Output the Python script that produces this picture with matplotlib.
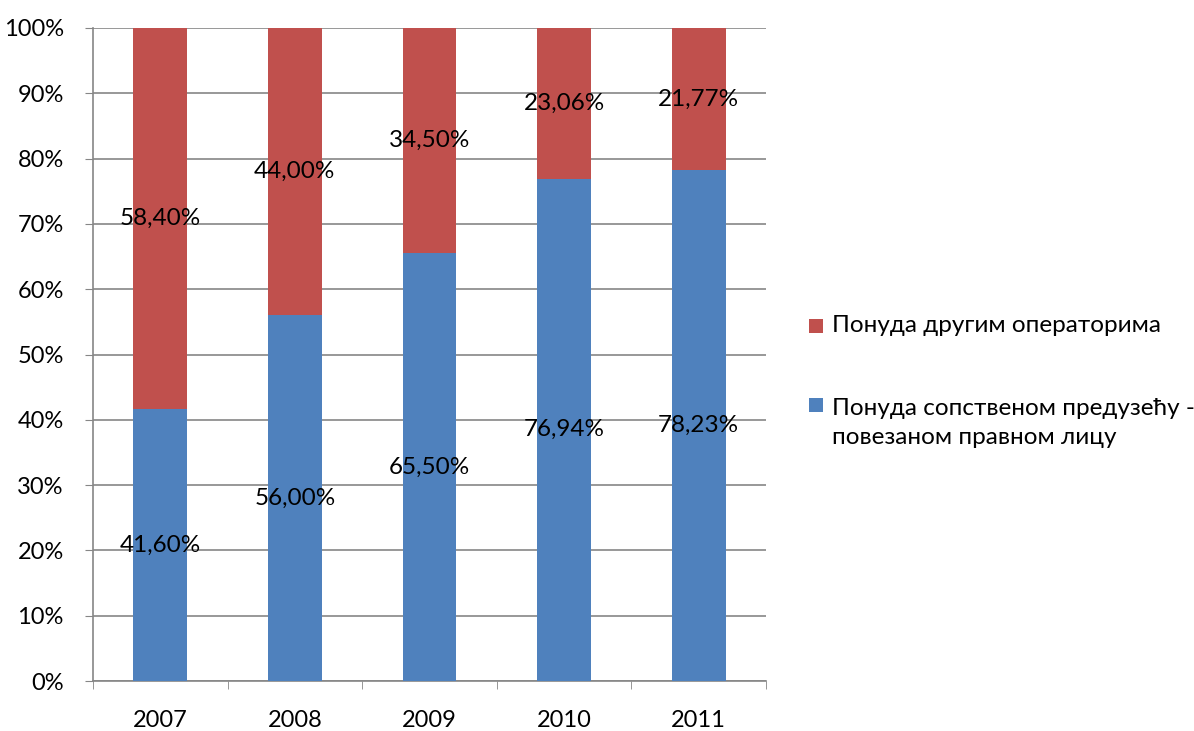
import matplotlib.pyplot as plt
import numpy as np
from matplotlib.patches import Rectangle

years = ["2007", "2008", "2009", "2010", "2011"]
own_company = [41.60, 56.00, 65.50, 76.94, 78.23]
other_operators = [58.40, 44.00, 34.50, 23.06, 21.77]
own_label = "Понуда сопственом предузећу -\nповезаном правном лицу"
other_label = "Понуда другим операторима"

blue = "#4F81BD"
red = "#C0504D"
grey = "#868686"

plt.rcParams["font.family"] = ["Lato", "DejaVu Sans"]

W, H = 1194, 731
fig = plt.figure(figsize=(W / 100, H / 100), dpi=100)
ax = fig.add_axes([93 / W, 1 - 681 / H, 673 / W, 653 / H])

x = np.arange(len(years))
w = 0.40
ax.bar(x, own_company, w, color=blue, zorder=3)
ax.bar(x, other_operators, w, bottom=own_company, color=red, zorder=3)

fmt = lambda v: f"{v:.2f}%".replace(".", ",")
for i in range(len(years)):
    ax.text(x[i], own_company[i] / 2, fmt(own_company[i]), ha="center", va="center",
            fontsize=17.5, zorder=4)
    ax.text(x[i], own_company[i] + other_operators[i] / 2, fmt(other_operators[i]),
            ha="center", va="center", fontsize=17.5, zorder=4)

ax.set_xlim(-0.5, len(years) - 0.5)
ax.set_ylim(0, 100)
ax.set_yticks(np.arange(0, 101, 10))
ax.set_yticklabels([f"{v}%" for v in range(0, 101, 10)], fontsize=17)
ax.set_xticks(x)
ax.set_xticklabels(years, fontsize=17)
ax.set_xticks(np.arange(-0.5, len(years), 1), minor=True)
ax.tick_params(axis="x", which="major", length=0, pad=21)
ax.tick_params(axis="x", which="minor", length=6, color=grey, direction="out")
ax.tick_params(axis="y", length=6, color=grey, direction="out", pad=15)
ax.yaxis.grid(True, color=grey, linewidth=1.2, zorder=0)
for s in ["top", "right"]:
    ax.spines[s].set_visible(False)
for s in ["left", "bottom"]:
    ax.spines[s].set_color(grey)
    ax.spines[s].set_linewidth(1.2)

# legend, drawn by hand so the square sits next to the first text line
for yc, col in [(326, red), (405, blue)]:
    fig.patches.append(Rectangle((809 / W, 1 - (yc + 7) / H), 14 / W, 14 / H,
                                 transform=fig.transFigure, facecolor=col))
fig.text(832 / W, 1 - 326 / H, other_label, va="center", ha="left", fontsize=17.5)
fig.text(832 / W, 1 - 423 / H, own_label, va="center", ha="left", fontsize=17.5,
         linespacing=1.45)

fig.savefig("out.png", dpi=100)
